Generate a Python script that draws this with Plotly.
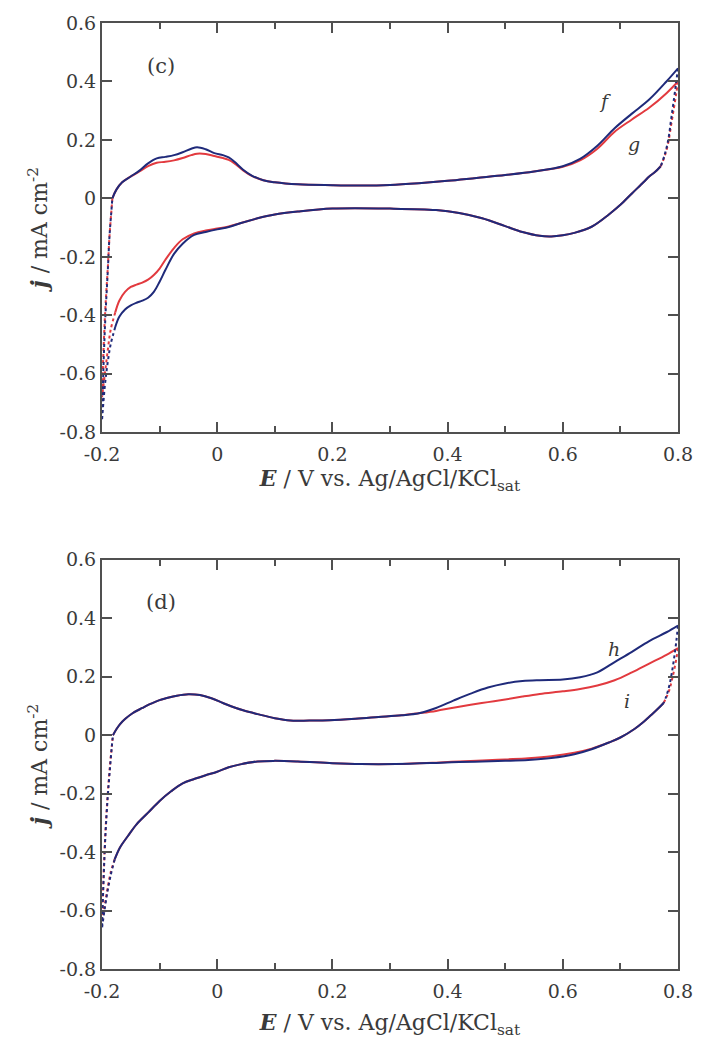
import plotly.graph_objects as go

# ---------------- Panel (c): curves f (blue) and g (red) ----------------
E_fwd_c = [-0.182, -0.175, -0.165, -0.15, -0.135, -0.12, -0.105, -0.09, -0.075, -0.06,
           -0.045, -0.035, -0.02, -0.005, 0.01, 0.02, 0.03, 0.045, 0.06, 0.08,
           0.1, 0.14, 0.2, 0.25, 0.3, 0.35, 0.4, 0.45, 0.5, 0.55,
           0.6, 0.63, 0.66, 0.69, 0.72, 0.75, 0.78, 0.8]
j_f_fwd = [0.0, 0.03, 0.055, 0.075, 0.095, 0.12, 0.137, 0.142, 0.148, 0.158,
           0.17, 0.175, 0.168, 0.155, 0.148, 0.14, 0.125, 0.098, 0.078, 0.062,
           0.055, 0.048, 0.045, 0.044, 0.046, 0.052, 0.06, 0.07, 0.08, 0.092,
           0.11, 0.135, 0.18, 0.24, 0.29, 0.338, 0.40, 0.445]
j_g_fwd = [0.0, 0.03, 0.055, 0.075, 0.092, 0.11, 0.122, 0.125, 0.13, 0.138,
           0.148, 0.153, 0.152, 0.145, 0.138, 0.132, 0.12, 0.096, 0.077, 0.062,
           0.055, 0.048, 0.045, 0.044, 0.046, 0.052, 0.06, 0.07, 0.08, 0.092,
           0.108, 0.13, 0.17, 0.228, 0.27, 0.31, 0.36, 0.40]

E_rev_c = [0.77, 0.76, 0.75, 0.74, 0.72, 0.7, 0.68, 0.65, 0.62, 0.6,
           0.58, 0.56, 0.53, 0.5, 0.46, 0.42, 0.38, 0.3, 0.2, 0.14,
           0.1, 0.07, 0.04, 0.02, 0.0, -0.02, -0.04, -0.06, -0.075, -0.09,
           -0.1, -0.11, -0.12, -0.13, -0.14, -0.15, -0.16, -0.17, -0.177]
j_f_rev = [0.11, 0.09, 0.075, 0.055, 0.017, -0.022, -0.055, -0.097, -0.118, -0.126,
           -0.13, -0.128, -0.115, -0.095, -0.068, -0.05, -0.04, -0.035, -0.035, -0.045,
           -0.055, -0.068, -0.085, -0.098, -0.106, -0.115, -0.125, -0.155, -0.19, -0.245,
           -0.285, -0.32, -0.34, -0.35, -0.357, -0.366, -0.38, -0.405, -0.44]
j_g_rev = [0.11, 0.09, 0.075, 0.055, 0.017, -0.022, -0.055, -0.097, -0.118, -0.126,
           -0.13, -0.128, -0.115, -0.095, -0.068, -0.05, -0.04, -0.035, -0.035, -0.045,
           -0.055, -0.068, -0.085, -0.096, -0.103, -0.11, -0.12, -0.14, -0.17, -0.21,
           -0.24, -0.262, -0.278, -0.288, -0.295, -0.303, -0.32, -0.35, -0.39]

# Fast-changing regions near the switching potentials (sparse points)
E_neg_c = [-0.177, -0.185, -0.19, -0.195, -0.2, -0.2, -0.197, -0.194, -0.19, -0.187, -0.184, -0.182]
j_f_neg = [-0.44, -0.5, -0.56, -0.64, -0.76, -0.76, -0.55, -0.4, -0.25, -0.13, -0.05, 0.0]
j_g_neg = [-0.39, -0.45, -0.52, -0.6, -0.68, -0.68, -0.5, -0.37, -0.24, -0.13, -0.05, 0.0]
E_pos_c = [0.8, 0.797, 0.793, 0.788, 0.783, 0.777, 0.77]
j_f_pos = [0.445, 0.40, 0.34, 0.27, 0.2, 0.15, 0.11]
j_g_pos = [0.40, 0.36, 0.31, 0.25, 0.19, 0.145, 0.11]

# ---------------- Panel (d): curves h (blue) and i (red) ----------------
E_fwd_d = [-0.181, -0.175, -0.169, -0.16, -0.147, -0.13, -0.118, -0.1, -0.089, -0.07,
           -0.05, -0.03, -0.01, 0.01, 0.024, 0.045, 0.07, 0.1, 0.127, 0.16,
           0.195, 0.24, 0.28, 0.32, 0.35, 0.38, 0.41, 0.44, 0.47, 0.5,
           0.53, 0.56, 0.6, 0.63, 0.66, 0.69, 0.72, 0.75, 0.78, 0.8]
j_h_fwd = [0.0, 0.02, 0.037, 0.055, 0.075, 0.093, 0.105, 0.12, 0.126, 0.135,
           0.14, 0.137, 0.126, 0.11, 0.099, 0.085, 0.072, 0.058, 0.05, 0.05,
           0.051, 0.056, 0.062, 0.068, 0.075, 0.093, 0.118, 0.142, 0.163, 0.177,
           0.185, 0.188, 0.19, 0.198, 0.215, 0.25, 0.285, 0.322, 0.352, 0.375]
j_i_fwd = [0.0, 0.02, 0.037, 0.055, 0.075, 0.093, 0.105, 0.12, 0.126, 0.135,
           0.14, 0.137, 0.126, 0.11, 0.099, 0.085, 0.072, 0.058, 0.05, 0.05,
           0.051, 0.056, 0.062, 0.068, 0.075, 0.083, 0.094, 0.104, 0.113, 0.122,
           0.132, 0.141, 0.15, 0.158, 0.17, 0.188, 0.215, 0.245, 0.275, 0.298]

E_rev_d = [0.775, 0.765, 0.754, 0.74, 0.725, 0.7, 0.68, 0.65, 0.62, 0.58,
           0.54, 0.5, 0.46, 0.42, 0.38, 0.31, 0.25, 0.2, 0.14, 0.1,
           0.07, 0.04, 0.02, 0.0, -0.02, -0.04, -0.06, -0.08, -0.1, -0.12,
           -0.14, -0.155, -0.169, -0.178]
j_h_rev = [0.11, 0.09, 0.07, 0.045, 0.022, -0.008, -0.025, -0.048, -0.065, -0.078,
           -0.085, -0.088, -0.09, -0.092, -0.095, -0.099, -0.099, -0.096, -0.09, -0.088,
           -0.09, -0.1, -0.11, -0.125, -0.137, -0.15, -0.165, -0.192, -0.225, -0.265,
           -0.305, -0.345, -0.385, -0.425]
j_i_rev = [0.11, 0.09, 0.07, 0.045, 0.022, -0.008, -0.025, -0.046, -0.06, -0.072,
           -0.079, -0.083, -0.087, -0.09, -0.094, -0.099, -0.099, -0.096, -0.09, -0.088,
           -0.09, -0.1, -0.11, -0.125, -0.137, -0.15, -0.165, -0.192, -0.225, -0.265,
           -0.305, -0.345, -0.385, -0.425]

E_neg_d = [-0.178, -0.185, -0.19, -0.195, -0.2, -0.2, -0.197, -0.194, -0.19, -0.186, -0.183, -0.181]
j_h_neg = [-0.425, -0.48, -0.53, -0.59, -0.66, -0.66, -0.48, -0.34, -0.21, -0.11, -0.04, 0.0]
j_i_neg = [-0.425, -0.47, -0.52, -0.58, -0.64, -0.64, -0.47, -0.33, -0.2, -0.1, -0.04, 0.0]
E_pos_d = [0.8, 0.797, 0.793, 0.789, 0.785, 0.78, 0.775]
j_h_pos = [0.375, 0.32, 0.26, 0.21, 0.17, 0.135, 0.11]
j_i_pos = [0.298, 0.26, 0.22, 0.185, 0.155, 0.13, 0.11]

x_tick_vals = [-0.2, 0.0, 0.2, 0.4, 0.6, 0.8]
x_tick_text = ["-0.2", "0", "0.2", "0.4", "0.6", "0.8"]
y_tick_vals = [-0.8, -0.6, -0.4, -0.2, 0.0, 0.2, 0.4, 0.6]
y_tick_text = ["-0.8", "-0.6", "-0.4", "-0.2", "0", "0.2", "0.4", "0.6"]

BLUE = "#1f2a7a"
RED = "#e23a3f"
AXIS = "#505050"
TEXT = "#3a3a3a"
SERIF = "DejaVu Serif"

fig = go.Figure()


def add_cv(xa, ya, color, E_f, j_f, E_r, j_r, E_n, j_n, E_p, j_p):
    solid = dict(color=color, width=2)
    dotted = dict(color=color, width=2, dash="dot")
    for E, j, ln in ((E_f, j_f, solid), (E_r, j_r, solid), (E_n, j_n, dotted), (E_p, j_p, dotted)):
        fig.add_trace(go.Scatter(x=E, y=j, mode="lines", line=ln, line_shape="spline",
                                 xaxis=xa, yaxis=ya, showlegend=False, hoverinfo="skip"))


add_cv("x", "y", RED, E_fwd_c, j_g_fwd, E_rev_c, j_g_rev, E_neg_c, j_g_neg, E_pos_c, j_g_pos)
add_cv("x", "y", BLUE, E_fwd_c, j_f_fwd, E_rev_c, j_f_rev, E_neg_c, j_f_neg, E_pos_c, j_f_pos)
add_cv("x2", "y2", RED, E_fwd_d, j_i_fwd, E_rev_d, j_i_rev, E_neg_d, j_i_neg, E_pos_d, j_i_pos)
add_cv("x2", "y2", BLUE, E_fwd_d, j_h_fwd, E_rev_d, j_h_rev, E_neg_d, j_h_neg, E_pos_d, j_h_pos)

x_title = "<b><i>E</i></b> / V vs. Ag/AgCl/KCl<sub>sat</sub>"
y_title = "<b><i>j</i></b> / mA cm<sup>-2</sup>"
title_font = dict(family=SERIF, size=22, color=TEXT)
tick_font = dict(family=SERIF, size=19, color=TEXT)

xaxis_common = dict(
    range=[-0.2, 0.8], tickmode="array", tickvals=x_tick_vals, ticktext=x_tick_text,
    ticks="inside", ticklen=10, tickwidth=1.5, tickcolor=AXIS, ticklabelstandoff=4,
    minor=dict(ticks="inside", ticklen=6, tickwidth=1.5, tickcolor=AXIS, dtick=0.1, tick0=-0.2, showgrid=False),
    showline=True, linecolor=AXIS, linewidth=2, mirror="allticks",
    showgrid=False, zeroline=False, tickfont=tick_font,
)
yaxis_common = dict(
    range=[-0.8, 0.6], tickmode="array", tickvals=y_tick_vals, ticktext=y_tick_text,
    ticks="inside", ticklen=10, tickwidth=1.5, tickcolor=AXIS,
    showline=True, linecolor=AXIS, linewidth=2, mirror="allticks",
    showgrid=False, zeroline=False, tickfont=tick_font,
    title=dict(text=y_title, font=title_font, standoff=6),
)

fig.update_layout(
    width=705, height=1047,
    margin=dict(l=102, r=18, t=19, b=78),
    paper_bgcolor="white", plot_bgcolor="white",
    showlegend=False,
    xaxis=dict(xaxis_common, domain=[0, 1], anchor="y",
               title=dict(text=x_title, font=title_font, standoff=2)),
    yaxis=dict(yaxis_common, domain=[0.5674, 1.0], anchor="x"),
    xaxis2=dict(xaxis_common, domain=[0, 1], anchor="y2",
                title=dict(text=x_title, font=title_font, standoff=14)),
    yaxis2=dict(yaxis_common, domain=[0.0, 0.4326], anchor="x2"),
)

label_font = dict(family=SERIF, size=21, color=TEXT)
curve_font = dict(family=SERIF, size=19, color=TEXT)
annotations = [
    dict(x=-0.097, y=0.453, xref="x", yref="y", text="(c)", font=label_font),
    dict(x=-0.097, y=0.456, xref="x2", yref="y2", text="(d)", font=label_font),
    dict(x=0.673, y=0.334, xref="x", yref="y", text="<i>f</i>", font=curve_font),
    dict(x=0.723, y=0.187, xref="x", yref="y", text="<i>g</i>", font=curve_font),
    dict(x=0.689, y=0.296, xref="x2", yref="y2", text="<i>h</i>", font=curve_font),
    dict(x=0.711, y=0.116, xref="x2", yref="y2", text="<i>i</i>", font=curve_font),
]
for a in annotations:
    a["showarrow"] = False
fig.update_layout(annotations=annotations)

fig.write_html("out.html")
